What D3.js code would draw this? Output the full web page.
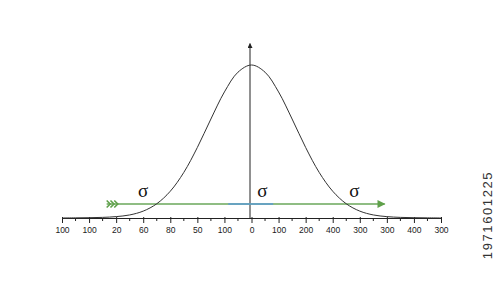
<!DOCTYPE html>
<meta charset="utf-8">
<script src="https://cdn.jsdelivr.net/npm/d3@7"></script>
<style>
body { margin: 0; background: #fff; }
text.tick { font: 8.5px "Liberation Sans", Arial, sans-serif; fill: #1a1a1a; }
text.sigma { font: 19px "Liberation Serif", "Times New Roman", serif; fill: #111; }
</style>
<body>
<script>

// tick labels along the bottom axis (as printed)
var tickLabels = ["100","100","20","60","80","50","100","0","100","200","400","300","300","400","300"];

// bell curve at half-tick steps (tick units, relative height)
var curveX = [-7,-6.5,-6,-5.5,-5,-4.5,-4,-3.5,-3,-2.5,-2,-1.5,-1,-0.5,0,
              0.5,1,1.5,2,2.5,3,3.5,4,4.5,5,5.5,6,6.5,7];
var curveY = [0,0.001,0.002,0.004,0.009,0.02,0.045,0.093,0.175,0.298,0.461,0.647,0.824,0.953,1,
              0.953,0.824,0.647,0.461,0.298,0.175,0.093,0.045,0.02,0.009,0.004,0.002,0.001,0];

// sigma markers and the range line (tick units)
var sigmaX = [-4.0, 0.4, 3.8];
var rangeLine = [-5.35, 4.92];
var blueSpan = [-0.86, 0.8];
var rangeLevel = 0.0915;

var width = 500, height = 282;

var svg = d3.select("body").append("svg")
    .attr("width", width)
    .attr("height", height);

var x = d3.scaleLinear().domain([-7, 7]).range([62, 441]);
var y = d3.scaleLinear().domain([0, 1]).range([218, 65]);

// arrow markers
var defs = svg.append("defs");
defs.append("marker")
    .attr("id", "upArrow")
    .attr("viewBox", "0 0 10 10")
    .attr("refX", 9).attr("refY", 5)
    .attr("markerWidth", 7).attr("markerHeight", 5)
    .attr("markerUnits", "userSpaceOnUse")
    .attr("orient", "auto")
  .append("path")
    .attr("d", "M0,0L10,5L0,10Z")
    .attr("fill", "#222");

defs.append("marker")
    .attr("id", "greenArrow")
    .attr("viewBox", "0 0 10 10")
    .attr("refX", 9).attr("refY", 5)
    .attr("markerWidth", 9).attr("markerHeight", 8)
    .attr("markerUnits", "userSpaceOnUse")
    .attr("orient", "auto")
  .append("path")
    .attr("d", "M0,0L10,5L0,10Z")
    .attr("fill", "#5fa04a");

// bottom axis: major ticks with labels, minor ticks in between
var axis = d3.axisBottom(x)
    .tickValues(d3.range(-7, 8))
    .tickSize(5)
    .tickSizeOuter(0)
    .tickFormat(function(d, i) { return tickLabels[i]; });

var gx = svg.append("g")
    .attr("transform", "translate(0," + y(0) + ")")
    .call(axis);
gx.select(".domain").attr("stroke", "#222");
gx.selectAll(".tick line").attr("stroke", "#222").attr("y1", -1);
gx.selectAll(".tick text").attr("class", "tick").attr("y", 9).attr("font-size", null).attr("font-family", null);

var minor = d3.range(-6.5, 7, 1);
svg.append("g").selectAll("line")
    .data(minor)
  .enter().append("line")
    .attr("x1", function(d) { return x(d); })
    .attr("x2", function(d) { return x(d); })
    .attr("y1", y(0))
    .attr("y2", y(0) + 3)
    .attr("stroke", "#222");

// vertical axis
svg.append("line")
    .attr("x1", x(0) - 1.5).attr("x2", x(0) - 1.5)
    .attr("y1", y(0)).attr("y2", y(1.14))
    .attr("stroke", "#222")
    .attr("stroke-width", 1)
    .attr("marker-end", "url(#upArrow)");

// green range line with blue middle part
svg.append("line")
    .attr("x1", x(rangeLine[0])).attr("x2", x(rangeLine[1]))
    .attr("y1", y(rangeLevel)).attr("y2", y(rangeLevel))
    .attr("stroke", "#6aa75a")
    .attr("stroke-width", 1.6)
    .attr("marker-end", "url(#greenArrow)");

svg.append("line")
    .attr("x1", x(blueSpan[0])).attr("x2", x(blueSpan[1]))
    .attr("y1", y(rangeLevel)).attr("y2", y(rangeLevel))
    .attr("stroke", "#5b9bd5")
    .attr("stroke-width", 1.6);

// chevrons at the tail of the range line
svg.append("g").selectAll("path")
    .data([0, 1, 2])
  .enter().append("path")
    .attr("d", function(d) {
      var cx = x(rangeLine[0]) + d * 3.8, cy = y(rangeLevel);
      return "M" + cx + "," + (cy - 3.5) + "L" + (cx + 3.5) + "," + cy + "L" + cx + "," + (cy + 3.5);
    })
    .attr("fill", "none")
    .attr("stroke", "#5fa04a")
    .attr("stroke-width", 1.6);

// the bell curve
var line = d3.line()
    .x(function(d, i) { return x(curveX[i]); })
    .y(function(d) { return y(d); })
    .curve(d3.curveCatmullRom);

svg.append("path")
    .datum(curveY)
    .attr("d", line)
    .attr("fill", "none")
    .attr("stroke", "#333")
    .attr("stroke-width", 1);

// sigma labels
svg.append("g").selectAll("text")
    .data(sigmaX)
  .enter().append("text")
    .attr("class", "sigma")
    .attr("x", function(d) { return x(d); })
    .attr("y", 197)
    .attr("text-anchor", "middle")
    .text("σ");

// stock id along the right edge
svg.append("text")
    .attr("transform", "translate(492,215) rotate(-90)")
    .attr("text-anchor", "middle")
    .style("font", "13px 'Liberation Sans', Arial, sans-serif")
    .style("letter-spacing", "1.6px")
    .style("fill", "#333")
    .text("1971601225");

</script>
</body>
</html>
